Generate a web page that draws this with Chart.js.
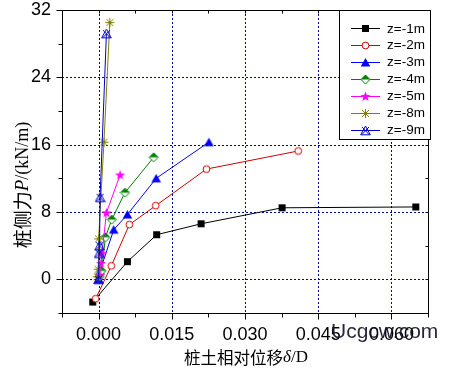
<!DOCTYPE html>
<html>
<head>
<meta charset="utf-8">
<script src="https://cdn.jsdelivr.net/npm/chart.js@4.4.1/dist/chart.umd.min.js"></script>
<style>
  html, body { margin: 0; padding: 0; background: #ffffff; }
  #wrap { width: 451px; height: 372px; }
</style>
</head>
<body>
<div id="wrap"><canvas id="c" width="451" height="372"></canvas></div>
<script>
// ---- data ----
const seriesLabels = ['z=-1m', 'z=-2m', 'z=-3m', 'z=-4m', 'z=-5m', 'z=-8m', 'z=-9m'];

const z1X = [-0.0012, 0.0059, 0.0119, 0.0210, 0.0376, 0.0650];
const z1Y = [-2.7, 2.1, 5.3, 6.6, 8.5, 8.6];

const z2X = [-0.0006, 0.0026, 0.0063, 0.0117, 0.0221, 0.0409];
const z2Y = [-2.3, 1.6, 6.5, 8.75, 13.1, 15.25];

const z3X = [0.0000, 0.0003, 0.0031, 0.0059, 0.0118, 0.0226];
const z3Y = [0.0, 1.0, 5.9, 7.7, 12.0, 16.3];

const z4X = [0.0002, 0.0006, 0.0014, 0.0027, 0.0054, 0.0113];
const z4Y = [0.3, 1.0, 5.0, 7.1, 10.3, 14.5];

const z5X = [0.0002, 0.0005, 0.0007, 0.0016, 0.0044];
const z5Y = [0.5, 1.9, 3.1, 7.9, 12.4];

const z8X = [-0.0003, -0.0001, 0.0000, 0.0011, 0.0023];
const z8Y = [0.3, 1.2, 4.8, 16.3, 30.5];

const z9X = [0.0000, 0.0001, 0.0002, 0.0003, 0.0016];
const z9Y = [0.0, 3.1, 4.0, 9.75, 29.2];

const xTickValues = [0, 0.015, 0.030, 0.045, 0.060];
const yTickValues = [0, 8, 16, 24, 32];

const xTitleCJK = '桩土相对位移';
const xTitleSym = 'δ';
const xTitleTail = '/D';
const yTitleCJK = '桩侧力';
const yTitleSym = 'P';
const yTitleTail = '/(kN/m)';
const watermark = 'Ucgcw.com';

// ---- marker images ----
function mk(draw) {
  const c = document.createElement('canvas');
  c.width = 11; c.height = 11;
  const g = c.getContext('2d');
  g.lineWidth = 1;
  draw(g);
  return c;
}
const colors = ['#000000', '#d00000', '#0000ff', '#008000', '#ff00ff', '#808000', '#0000cc'];
const markers = [
  mk(g => { g.fillStyle = '#000'; g.fillRect(2, 2, 7, 7); }),
  mk(g => { g.beginPath(); g.arc(5.5, 5.5, 3.4, 0, Math.PI * 2); g.fillStyle = '#fff'; g.fill(); g.strokeStyle = colors[1]; g.stroke(); }),
  mk(g => { g.beginPath(); g.moveTo(5.5, 1); g.lineTo(10.3, 9.5); g.lineTo(0.7, 9.5); g.closePath(); g.fillStyle = colors[2]; g.fill(); }),
  mk(g => {
    g.beginPath(); g.moveTo(5.5, 1); g.lineTo(10, 5.5); g.lineTo(5.5, 10); g.lineTo(1, 5.5); g.closePath();
    g.fillStyle = '#fff'; g.fill();
    g.beginPath(); g.moveTo(5.5, 1); g.lineTo(10, 5.5); g.lineTo(1, 5.5); g.closePath();
    g.fillStyle = colors[3]; g.fill();
    g.beginPath(); g.moveTo(5.5, 1); g.lineTo(10, 5.5); g.lineTo(5.5, 10); g.lineTo(1, 5.5); g.closePath();
    g.strokeStyle = colors[3]; g.stroke();
  }),
  mk(g => {
    g.beginPath();
    for (let i = 0; i < 10; i++) {
      const r = i % 2 === 0 ? 5.3 : 2.2;
      const a = -Math.PI / 2 + i * Math.PI / 5;
      const px = 5.5 + r * Math.cos(a), py = 5.8 + r * Math.sin(a);
      if (i === 0) g.moveTo(px, py); else g.lineTo(px, py);
    }
    g.closePath(); g.fillStyle = colors[4]; g.fill();
  }),
  mk(g => {
    g.strokeStyle = colors[5]; g.beginPath();
    g.moveTo(5.5, 1); g.lineTo(5.5, 10);
    g.moveTo(1, 5.5); g.lineTo(10, 5.5);
    g.moveTo(2, 2); g.lineTo(9, 9);
    g.moveTo(9, 2); g.lineTo(2, 9);
    g.stroke();
  }),
  mk(g => {
    g.strokeStyle = colors[6]; g.beginPath();
    g.moveTo(5.5, 1); g.lineTo(10.3, 9.8); g.lineTo(0.7, 9.8); g.closePath();
    g.moveTo(2, 2); g.lineTo(9, 9.5);
    g.moveTo(9, 2); g.lineTo(2, 9.5);
    g.stroke();
  })
];

const xs = [z1X, z2X, z3X, z4X, z5X, z8X, z9X];
const ys = [z1Y, z2Y, z3Y, z4Y, z5Y, z8Y, z9Y];

const datasets = seriesLabels.map((lab, i) => ({
  label: lab,
  data: xs[i].map((x, j) => ({ x: x, y: ys[i][j] })),
  showLine: true,
  borderColor: colors[i],
  backgroundColor: colors[i],
  borderWidth: 1,
  pointStyle: markers[i],
  pointRadius: 5,
  pointHoverRadius: 5,
  order: seriesLabels.length - 1 - i
}));

const GRID = '#0000a0';
const decor = {
  id: 'decor',
  beforeDatasetsDraw(chart) {
    const { ctx, chartArea: a, scales: { x, y } } = chart;
    ctx.save();
    ctx.strokeStyle = GRID; ctx.lineWidth = 1; ctx.setLineDash([2, 2]);
    xTickValues.forEach(v => {
      const px = Math.round(x.getPixelForValue(v)) + 0.5;
      if (px <= a.left + 1 || px >= a.right - 1) return;
      ctx.beginPath(); ctx.moveTo(px, a.top); ctx.lineTo(px, a.bottom); ctx.stroke();
    });
    yTickValues.forEach(v => {
      const py = Math.round(y.getPixelForValue(v)) + 0.5;
      if (py <= a.top + 1 || py >= a.bottom - 1) return;
      ctx.beginPath(); ctx.moveTo(a.left, py); ctx.lineTo(a.right, py); ctx.stroke();
    });
    ctx.restore();
  },
  afterDatasetsDraw(chart) {
    const { ctx, chartArea: a, scales: { x, y } } = chart;
    ctx.save();
    ctx.strokeStyle = '#000'; ctx.lineWidth = 1; ctx.setLineDash([]);
    const L = Math.round(a.left) + 0.5, R = Math.round(a.right) + 0.5;
    const T = Math.round(a.top) + 0.5, B = Math.round(a.bottom) + 0.5;
    ctx.strokeRect(L, T, R - L, B - T);
    // ticks
    ctx.beginPath();
    x.ticks.forEach(t => {
      const major = Math.round(t.value / 0.0075) % 2 === 0;
      const px = Math.round(x.getPixelForValue(t.value)) + 0.5;
      ctx.moveTo(px, B); ctx.lineTo(px, B + (major ? 6 : 4));
      ctx.moveTo(px, T); ctx.lineTo(px, T + 3);
    });
    y.ticks.forEach(t => {
      const major = Math.round(t.value / 4) % 2 === 0;
      const py = Math.round(y.getPixelForValue(t.value)) + 0.5;
      ctx.moveTo(L, py); ctx.lineTo(L - (major ? 6 : 4), py);
      ctx.moveTo(R, py); ctx.lineTo(R - 3, py);
    });
    ctx.stroke();

    // legend
    const bx = 339.5, by = 10.5, bw = 91, bh = 129;
    ctx.fillStyle = '#fff';
    ctx.fillRect(bx, by, bw, bh);
    ctx.strokeRect(bx, by, bw, bh);
    ctx.font = "13.5px 'Liberation Sans', Arial, sans-serif";
    ctx.textBaseline = 'middle'; ctx.textAlign = 'left';
    seriesLabels.forEach((lab, i) => {
      const cy = 28.3 + i * 16.95;
      const ly = Math.round(cy) + 0.5;
      ctx.strokeStyle = colors[i];
      ctx.beginPath(); ctx.moveTo(351, ly); ctx.lineTo(380, ly); ctx.stroke();
      ctx.drawImage(markers[i], 365.5 - 5.5, ly - 5.5);
      ctx.fillStyle = '#000';
      ctx.fillText(lab, 387, cy + 0.5);
    });

    // x title
    const cjk = "'Noto Sans CJK SC', sans-serif";
    const serif = "'Liberation Serif', 'DejaVu Serif', serif";
    ctx.fillStyle = '#000';
    ctx.textBaseline = 'middle';
    const xParts = [[xTitleCJK, '16.5px ' + cjk], [xTitleSym, 'italic 17px ' + serif], [xTitleTail, '17px ' + serif]];
    let tw = 0;
    xParts.forEach(p => { ctx.font = p[1]; tw += ctx.measureText(p[0]).width; });
    let cx = (a.left + a.right) / 2 + 1 - tw / 2;
    xParts.forEach(p => { ctx.font = p[1]; ctx.fillText(p[0], cx, 358); cx += ctx.measureText(p[0]).width; });

    // y title (rotated)
    ctx.save();
    ctx.translate(23, 185);
    ctx.rotate(-Math.PI / 2);
    const yParts = [[yTitleCJK, '19px ' + cjk], [yTitleSym, 'italic 19px ' + serif], [yTitleTail, '18px ' + serif]];
    tw = 0;
    yParts.forEach(p => { ctx.font = p[1]; tw += ctx.measureText(p[0]).width; });
    cx = -tw / 2;
    yParts.forEach(p => { ctx.font = p[1]; ctx.fillText(p[0], cx, 0); cx += ctx.measureText(p[0]).width; });
    ctx.restore();

    // watermark
    ctx.font = "21px 'Liberation Sans', Arial, sans-serif";
    ctx.fillStyle = 'rgba(20,20,40,0.92)';
    ctx.textBaseline = 'alphabetic';
    ctx.fillText(watermark, 331, 338);
    ctx.restore();
  }
};

const tickFont = { family: "'Liberation Sans', Arial, sans-serif", size: 18 };

new Chart(document.getElementById('c'), {
  type: 'scatter',
  data: { datasets: datasets },
  options: {
    responsive: false,
    animation: false,
    devicePixelRatio: 1,
    layout: { padding: { top: 10, right: 23, left: 0, bottom: 0 } },
    plugins: { legend: { display: false }, tooltip: { enabled: false } },
    scales: {
      x: {
        type: 'linear', min: -0.0075, max: 0.0675,
        grid: { display: false, drawTicks: false, tickLength: 0 },
        border: { display: false },
        ticks: {
          stepSize: 0.0075, autoSkip: false, maxRotation: 0, minRotation: 0,
          color: '#000', font: tickFont, padding: 11,
          callback: v => { const k = Math.round(v / 0.0075); return k % 2 === 0 ? (k * 0.0075).toFixed(3) : ''; }
        },
        afterFit: s => { s.height = 59; s.paddingLeft = 0; s.paddingRight = 0; }
      },
      y: {
        type: 'linear', min: -4, max: 32,
        grid: { display: false, drawTicks: false, tickLength: 0 },
        border: { display: false },
        ticks: {
          stepSize: 4, autoSkip: false,
          color: '#000', font: tickFont, padding: 11,
          callback: v => { const k = Math.round(v / 4); return k % 2 === 0 ? String(k * 4) : ''; }
        },
        afterFit: s => { s.width = 62; s.paddingTop = 0; s.paddingBottom = 0; }
      }
    }
  },
  plugins: [decor]
});
</script>
</body>
</html>
